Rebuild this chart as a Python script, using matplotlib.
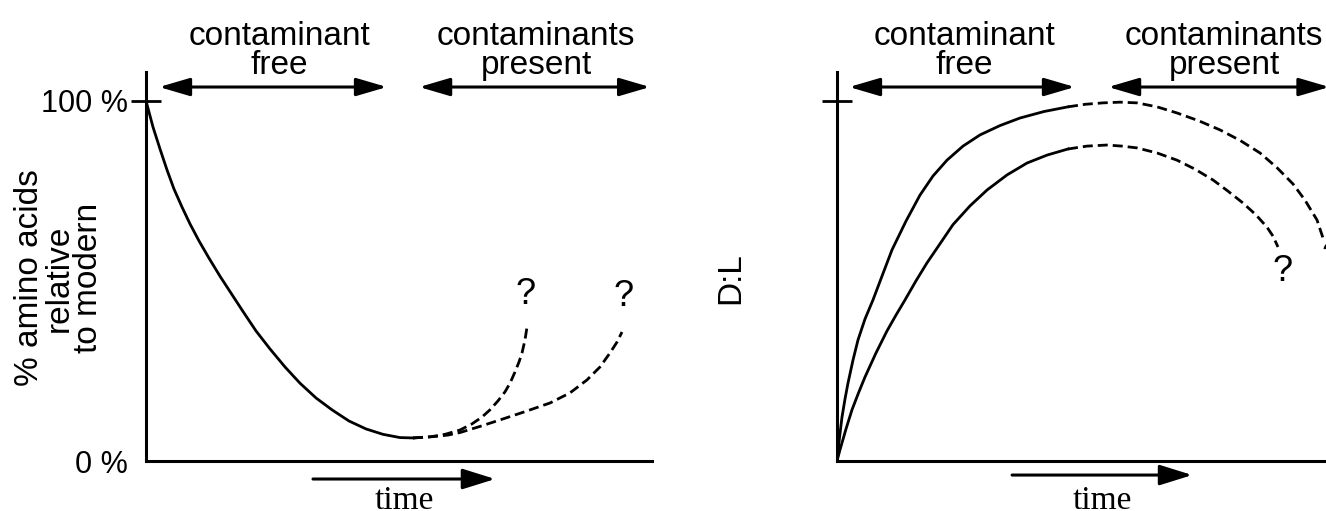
import matplotlib
matplotlib.use("Agg")
import matplotlib.pyplot as plt

plt.rcParams['font.family'] = ['Liberation Sans', 'DejaVu Sans']

# left panel: % amino acids relative to modern vs time
left_free_t = [0.000, 0.138, 0.277, 0.415, 0.553, 0.711, 0.870, 1.047, 1.245, 1.462, 1.680,
               1.917, 2.174, 2.451, 2.747, 3.043, 3.360, 3.676, 4.012, 4.348, 4.684, 5.020, 5.277]
left_free_v = [100.0, 92.7, 86.6, 80.8, 75.5, 70.5, 65.8, 61.1, 56.3, 51.3, 46.6,
               41.5, 36.1, 31.1, 26.1, 21.6, 17.5, 14.2, 11.1, 8.9, 7.4, 6.5, 6.4]
left_cont1_t = [5.277, 5.613, 5.909, 6.206, 6.443, 6.640, 6.798, 6.957, 7.095, 7.194,
                7.292, 7.372, 7.431, 7.490, 7.530]
left_cont1_v = [6.4, 6.7, 7.4, 8.6, 10.3, 12.2, 14.2, 16.7, 19.2, 21.6,
                24.7, 27.5, 30.0, 33.6, 37.2]
left_cont2_t = [5.277, 5.711, 5.968, 6.206, 6.601, 6.996, 7.490, 7.984, 8.379, 8.715,
                8.972, 9.170, 9.308, 9.407]
left_cont2_v = [6.4, 6.8, 7.2, 7.9, 9.6, 11.4, 13.7, 16.1, 18.9, 22.5,
                26.1, 30.0, 33.0, 35.8]

# right panel: D:L vs time, two curves
up_free_t = [0.000, 0.049, 0.099, 0.158, 0.217, 0.316, 0.415, 0.553, 0.711, 0.889, 1.087,
             1.364, 1.640, 1.897, 2.174, 2.490, 2.826, 3.221, 3.617, 4.091, 4.565]
up_free_v = [0.0, 6.4, 12.2, 17.2, 21.6, 28.0, 33.6, 39.4, 44.7, 51.3, 58.6,
             66.6, 73.8, 79.1, 83.5, 87.4, 90.5, 93.1, 95.2, 97.0, 98.3]
up_cont_t = [4.565, 4.901, 5.257, 5.593, 5.929, 6.324, 6.719, 7.154, 7.569, 7.964,
             8.360, 8.696, 9.012, 9.249, 9.486, 9.605]
up_cont_v = [98.3, 99.0, 99.4, 99.6, 99.4, 98.3, 96.6, 94.4, 91.9, 89.0,
             85.5, 81.4, 76.9, 72.4, 66.9, 61.9]
lo_free_t = [0.000, 0.059, 0.178, 0.296, 0.425, 0.553, 0.771, 0.988, 1.166, 1.344,
             1.561, 1.779, 2.036, 2.292, 2.628, 2.964, 3.360, 3.755, 4.150, 4.565]
lo_free_v = [0.0, 3.1, 8.9, 14.2, 18.9, 23.3, 30.0, 36.1, 40.5, 44.7,
             50.0, 55.0, 60.3, 65.6, 70.8, 75.2, 79.4, 82.7, 84.9, 86.6]
lo_cont_t = [4.565, 4.941, 5.336, 5.632, 5.929, 6.324, 6.719, 7.075, 7.431, 7.727,
             8.024, 8.281, 8.498, 8.617, 8.715]
lo_cont_v = [86.6, 87.4, 87.7, 87.4, 86.9, 85.5, 83.5, 81.0, 78.0, 74.9,
             71.6, 68.3, 64.9, 62.4, 59.4]

# regions marked with arrows above each panel
left_regions = [(0.26, 4.76), (5.40, 9.96)]
right_regions = [(0.24, 4.70), (5.36, 9.73)]
region_names = [("contaminant", "free"), ("contaminants", "present")]
left_name_x = [2.63, 7.71]
right_name_x = [2.51, 7.65]

fig = plt.figure(figsize=(13.26, 5.11), dpi=100)
ax1 = fig.add_axes([146/1326, 50/511, 506/1326, 389/511])
ax2 = fig.add_axes([837/1326, 50/511, 506/1326, 389/511])

dash = (0, (3.6, 1.8))
lw = 2.0
for ax in (ax1, ax2):
    ax.set_xlim(0, 10)
    ax.set_ylim(0, 107.97)
    for s in ('top', 'right'):
        ax.spines[s].set_visible(False)
    for s in ('left', 'bottom'):
        ax.spines[s].set_linewidth(2.2)
    ax.set_xticks([])
    ax.tick_params(axis='y', direction='inout', length=22, width=2, pad=2, labelsize=22)

ax1.plot(left_free_t, left_free_v, color='black', lw=lw)
ax1.plot(left_cont1_t, left_cont1_v, color='black', lw=lw, linestyle=dash)
ax1.plot(left_cont2_t, left_cont2_v, color='black', lw=lw, linestyle=dash)
ax1.set_yticks([0, 100])
ax1.set_yticklabels(['0 %', '100 %'])
ax1.yaxis.get_major_ticks()[0].tick1line.set_visible(False)

ax2.plot(up_free_t, up_free_v, color='black', lw=lw)
ax2.plot(up_cont_t, up_cont_v, color='black', lw=lw, linestyle=dash)
ax2.plot(lo_free_t, lo_free_v, color='black', lw=lw)
ax2.plot(lo_cont_t, lo_cont_v, color='black', lw=lw, linestyle=dash)
ax2.set_yticks([100])
ax2.set_yticklabels([''])

# question marks at the ends of the dashed branches
qkw = dict(textcoords='offset points', ha='center', fontsize=26, annotation_clip=False)
ax1.annotate('?', xy=(left_cont1_t[-1], left_cont1_v[-1]), xytext=(-1, 11), va='bottom', **qkw)
ax1.annotate('?', xy=(left_cont2_t[-1], left_cont2_v[-1]), xytext=(1, 13), va='bottom', **qkw)
ax2.annotate('?', xy=(lo_cont_t[-1], lo_cont_v[-1]), xytext=(3, -5), va='top', **qkw)
ax2.annotate('?', xy=(up_cont_t[-1], up_cont_v[-1]), xytext=(6, -2), va='top', **qkw)

arrow = dict(arrowstyle='<|-|>,head_length=0.75,head_width=0.22', lw=2.2, color='black',
             mutation_scale=25, shrinkA=0, shrinkB=0)
one_way = dict(arrow, arrowstyle='-|>,head_length=0.8,head_width=0.25')

for ax, regions, name_x, time_span, time_y in (
        (ax1, left_regions, left_name_x, (3.30, 6.90), -5.0),
        (ax2, right_regions, right_name_x, (3.46, 7.02), -3.9)):
    for (a, b), (top, bottom), nx in zip(regions, region_names, name_x):
        ax.annotate('', xy=(b, 103.8), xytext=(a, 103.8), arrowprops=arrow, annotation_clip=False)
        ax.text(nx, 115.5, top, ha='center', va='baseline', fontsize=24, clip_on=False)
        ax.text(nx, 107.3, bottom, ha='center', va='baseline', fontsize=24, clip_on=False)
    ax.annotate('', xy=(time_span[1], time_y), xytext=(time_span[0], time_y),
                arrowprops=one_way, annotation_clip=False)
    ax.text(sum(time_span) / 2, -13.3, 'time', ha='center', va='baseline',
            fontsize=24, family=['Liberation Serif', 'DejaVu Serif'], clip_on=False)

ax1.text(-1.72, 50.8, '% amino acids\nrelative\nto modern', rotation=90, ha='center',
         va='center', multialignment='center', linespacing=0.93, fontsize=24, clip_on=False)
ax2.text(-2.09, 50.8, 'D:L', rotation=90, ha='center', va='center', fontsize=24, clip_on=False)

fig.savefig('out.png', dpi=100)
